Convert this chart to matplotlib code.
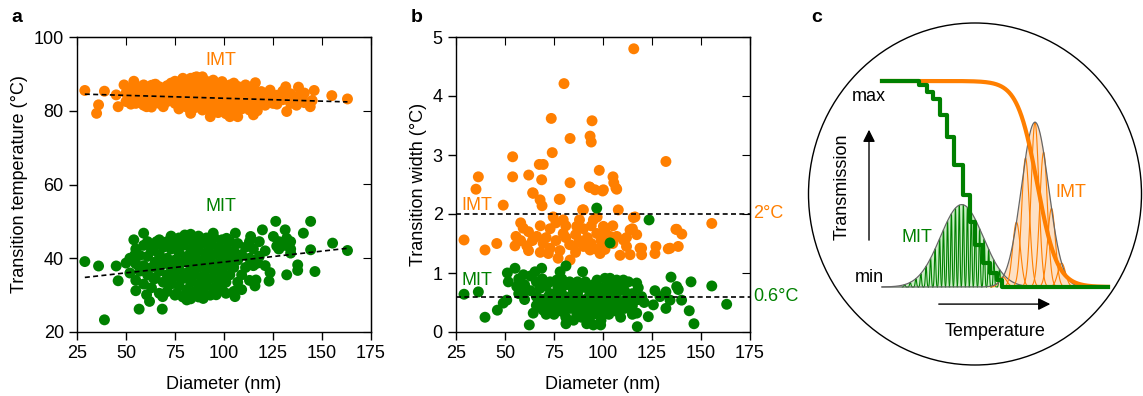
import numpy as np
import matplotlib.pyplot as plt
from matplotlib.patches import Ellipse

plt.rcParams['font.family'] = ['Liberation Sans', 'DejaVu Sans']
plt.rcParams['font.size'] = 13

orange = '#ff7f00'
green = '#008000'

# ---- panel a: transition temperature vs diameter ----
imt_t_x = [29, 35, 36, 39, 45, 46, 49, 54, 52.5, 57, 60.5, 59, 64, 69, 74, 79, 83, 86, 93, 94.5,
           99, 103, 107, 105, 111, 115, 116, 123.5, 125, 131.5, 132, 138, 140, 144, 146, 155, 163,
           50, 50, 52, 52, 55, 55, 55, 57, 57, 59, 59, 59, 61, 61, 63, 63, 63, 65, 65, 65,
           67, 67, 67, 69, 69, 69, 71, 71, 71, 73, 73, 73, 75, 75, 75, 75, 77, 77, 77, 77,
           79, 79, 79, 79, 81, 81, 81, 81, 83, 83, 83, 83, 83, 85, 85, 85, 85, 85, 87, 87, 87, 87,
           89, 89, 89, 89, 89, 91, 91, 91, 91, 93, 93, 93, 93, 95, 95, 95, 95, 97, 97, 97, 97,
           99, 99, 99, 99, 101, 101, 101, 101, 103, 103, 103, 103, 105, 105, 105, 105,
           107, 107, 107, 109, 109, 109, 111, 111, 111, 113, 113, 113, 115, 115, 115,
           117, 117, 117, 119, 119, 121, 121, 123, 123, 127, 127, 130, 130, 134, 134, 137, 137,
           141, 141, 145]
imt_t_y = [85.5, 79.3, 81.6, 85.3, 84.3, 81.1, 87, 88, 81.8, 82.9, 81.1, 86.5, 87, 81.1, 82.9, 88.8,
           79.3, 89.2, 78.4, 88.3, 87.9, 78.4, 78.4, 87.5, 87, 78.9, 87.6, 85.6, 82, 86.5, 79.8,
           86.4, 83.8, 81.1, 85.5, 84.1, 83.2,
           84.8, 82.5, 86, 83.5, 84, 86.8, 82, 85.5, 83, 87, 84.3, 81.5, 85.8, 82.8, 84.5, 86.9, 81,
           83.2, 85.6, 87.2, 84.8, 82, 86.5, 83.6, 85.9, 81.8, 86.8, 84.2, 82.5, 85.5, 83, 87.5,
           84, 86.5, 82, 88, 85, 87.8, 83.2, 80.5, 86.2, 84.3, 82.2, 88.5, 87.5, 85.3, 83, 81,
           88.8, 86.4, 84, 81.8, 80, 87.2, 85, 82.8, 80.8, 89, 88.3, 86, 83.8, 81.5,
           87, 84.5, 82.3, 80.2, 89.2, 85.8, 83.3, 81, 88, 86.8, 84.2, 82, 79.8, 85.2, 83, 80.8, 87.5,
           86.3, 84, 81.6, 79.5, 85, 82.6, 80.3, 87.2, 86, 83.5, 81.3, 79.2, 84.7, 82.3, 80, 87,
           85.8, 83.5, 81, 79.3, 84.2, 82, 86.6, 85.3, 83, 80.5, 84, 81.8, 86.4, 85, 82.5, 80.2,
           83.5, 81.2, 86.2, 84.6, 82.3, 80, 82.8, 85.2, 84, 81.5, 82.8, 85, 84.2, 81.8, 83, 85.3,
           82, 84.6, 81.5, 83.8, 82.2, 84.8, 82.8]

mit_t_x = [29, 36, 39, 45, 46, 50, 54, 54.5, 55, 56.7, 59, 60.5, 62, 68.5, 68.7, 64, 65.6, 76, 80,
           81, 89.4, 94.5, 96, 101.3, 105.6, 105.8, 113.6, 115.8, 116.3, 119.6, 117.2, 123.5, 123,
           125.2, 126.4, 126.9, 131.2, 132, 132, 134, 137.6, 137.6, 140.5, 144.2, 146.4, 144.2,
           155.4, 163,
           52, 52, 55, 55, 55, 57, 57, 59, 59, 59, 61, 61, 61, 63, 63, 63, 65, 65, 65,
           67, 67, 67, 67, 69, 69, 69, 71, 71, 71, 71, 73, 73, 73, 73, 75, 75, 75, 75,
           77, 77, 77, 77, 79, 79, 79, 79, 81, 81, 81, 81, 83, 83, 83, 83, 83, 85, 85, 85, 85,
           87, 87, 87, 87, 87, 89, 89, 89, 89, 91, 91, 91, 91, 93, 93, 93, 93, 95, 95, 95, 95,
           97, 97, 97, 99, 99, 99, 99, 101, 101, 101, 101, 103, 103, 103, 105, 105, 105,
           107, 107, 107, 109, 109, 109, 111, 111, 113, 113, 113, 115, 115, 118, 118, 121, 121,
           128, 128, 131, 134, 134]
mit_t_y = [39.1, 37.9, 23.3, 37.9, 33.9, 38.7, 45, 40.9, 31.2, 26.2, 46.8, 30.1, 28.3, 26.2, 29.6,
           34.6, 44.5, 30.5, 46.3, 28.7, 29.1, 46.8, 30.1, 45.4, 29.6, 46.8, 45.9, 32.5, 34.1, 47.7,
           38.7, 36.1, 33.8, 45.9, 50, 43.3, 47.7, 35.5, 45.4, 41.4, 38.2, 36.7, 46.8, 50, 36.4,
           42.3, 44.1, 42.1,
           36, 40, 34, 38.5, 42.5, 36.5, 40.8, 33, 38, 43.5, 35.5, 40.5, 44.5, 32, 37.5, 42,
           34.5, 39, 43.5, 30.5, 36.5, 41, 45, 33.5, 38.5, 43, 31, 35.5, 40, 44.5, 33, 37.5, 42.5, 46,
           30, 35, 39.5, 44, 32.5, 37, 41.5, 45.5, 29.5, 34.5, 39, 43.5, 31.5, 36, 40.5, 45,
           33.5, 38, 42.5, 46.5, 29, 31, 35.5, 40, 44, 33, 37.5, 42, 46, 29.5, 30.5, 35, 39.5, 44,
           32.5, 37, 41.5, 45.5, 34.5, 39, 43.5, 30, 32, 36.5, 41, 45.5, 34, 38.5, 43,
           31.5, 36, 40.5, 45, 33.5, 38, 42.5, 30.5, 35.5, 40, 44.5, 31, 37.5, 42, 33.5, 39.5, 44,
           35.5, 41, 31.5, 37.5, 43, 34, 40, 44.5, 38, 42.5, 40.5, 44.5, 42, 38, 42.5, 44.5, 43.5,
           44.5, 42.5]

# linear fits (start/end diameter, value)
imt_fit_x = [29, 163]
imt_fit_y = [84.5, 82.4]
mit_fit_x = [29, 163]
mit_fit_y = [34.8, 42.7]

# ---- panel b: transition width vs diameter ----
imt_w_x = [115.7, 80.1, 73.6, 94.4, 83.2, 93.4, 94.0, 74.1, 53.9, 132.1, 67.5, 69.5, 98.1, 62.1, 53.9,
           36.4, 105.1, 68.7, 83.2, 105.5, 35.2, 93.4, 95.9, 100.2, 107, 64.4, 67.9, 78.1,
           49.1, 64.1, 68.9, 77.7, 93, 99.8, 89.6, 106.6, 107.8, 115.5, 155.5, 137.6, 140.2, 134.2,
           138.4, 127, 126.5, 118.9, 119.7, 113.8,
           29.1, 39.8, 45.8, 55.6, 59.3, 55.1, 61.1, 66.2, 69.5, 72.1, 74.6, 77.1, 79.7, 79.7, 83.2,
           84.9, 86.6, 90, 93.4, 95.1, 96.8, 98.5, 100.2, 103.6, 108.7, 110.4, 113.8, 116.3, 117.2,
           119.7, 133.3, 137.2,
           58, 58, 62, 62, 64, 68, 68, 71, 73, 73, 76, 76, 78, 81, 81, 83, 86, 86, 88, 88, 90, 90,
           92, 94, 94, 97, 97, 99, 101, 101, 105, 105, 107, 112, 112, 115]
imt_w_y = [4.80, 4.21, 3.62, 3.58, 3.28, 3.32, 3.22, 3.04, 2.97, 2.89, 2.84, 2.84, 2.74, 2.66, 2.63,
           2.63, 2.63, 2.58, 2.53, 2.53, 2.42, 2.45, 2.41, 2.41, 2.42, 2.35, 2.24, 2.25,
           2.15, 2.36, 2.14, 2.25, 2.46, 2.39, 2.07, 2.44, 2.07, 1.94, 1.84, 1.74, 1.66, 1.42,
           1.45, 1.45, 1.33, 1.42, 1.31, 1.31,
           1.56, 1.39, 1.50, 1.62, 1.76, 1.46, 1.46, 1.62, 1.50, 1.33, 1.95, 1.25, 1.90, 1.67, 1.22,
           1.46, 1.79, 2.07, 1.39, 1.90, 1.67, 1.33, 1.79, 1.62, 1.30, 1.56, 1.73, 1.95, 1.65,
           1.42, 1.41, 1.74,
           1.55, 1.85, 1.7, 1.38, 1.55, 1.35, 1.8, 1.6, 1.42, 1.75, 1.55, 1.85, 1.38, 1.6, 1.8, 1.48,
           1.65, 1.35, 1.55, 1.9, 1.45, 1.75, 1.6, 1.8, 1.5, 1.4, 1.95, 1.55, 1.7, 1.4, 1.5, 1.8,
           1.62, 1.45, 1.6, 1.75]

mit_w_x = [96.8, 123.5, 103.6,
           29.1, 36.4, 39.8, 46.1, 49.1, 50.9, 51.2, 55.1, 51.7, 56, 59.4, 61.1, 62.4, 64.4, 65.3,
           68.7, 67.9, 69.5, 72.1, 76.4, 78.1, 81.1, 81.1, 84.1, 86.6, 89.6, 91.7, 95.1, 98.8, 96.8,
           101, 103.6, 107, 110.4, 111.2, 117.2, 117.2, 117.5, 119.7, 123.1, 126.5, 125.7, 129.1,
           132.1, 132.1, 134.7, 134.2, 137.6, 138.4, 140.1, 144, 144.9, 146.4, 155.5, 163.1,
           57, 57, 60, 60, 63, 63, 66, 66, 66, 69, 69, 69, 71, 71, 71, 73, 73, 73, 75, 75, 75,
           77, 77, 77, 79, 79, 79, 81, 81, 81, 83, 83, 83, 85, 85, 85, 87, 87, 87, 87, 89, 89, 89,
           91, 91, 91, 93, 93, 93, 93, 95, 95, 95, 97, 97, 97, 99, 99, 99, 99, 101, 101, 101,
           103, 103, 103, 105, 105, 105, 107, 107, 109, 109, 109, 111, 111, 113, 113, 115, 115, 115,
           118, 118, 121]
mit_w_y = [2.10, 1.90, 1.51,
           0.64, 0.68, 0.25, 0.37, 0.49, 0.54, 1.0, 1.08, 0.85, 0.77, 0.97, 0.71, 0.12, 0.32, 1.02,
           1.08, 0.74, 0.37, 0.60, 0.88, 1.02, 1.12, 0.14, 0.77, 0.32, 1.02, 0.14, 0.12, 0.12, 0.77,
           0.91, 0.91, 0.88, 0.88, 0.54, 0.83, 0.32, 0.09, 0.60, 0.26, 0.70, 0.46, 0.60,
           0.68, 0.40, 0.93, 0.54, 0.77, 0.72, 0.54, 0.36, 0.85, 0.14, 0.78, 0.47,
           0.9, 0.65, 0.8, 0.55, 0.95, 0.7, 0.85, 0.6, 0.45, 0.9, 0.55, 0.4, 0.78, 0.45, 0.3,
           0.65, 0.5, 0.85, 0.4, 0.6, 0.3, 0.55, 0.75, 0.45, 0.35, 0.65, 0.9, 0.5, 0.8, 0.25,
           0.6, 0.4, 0.85, 0.5, 0.7, 0.2, 0.35, 0.65, 0.85, 0.5, 0.45, 0.75, 0.25,
           0.55, 0.85, 0.35, 0.4, 0.7, 0.6, 0.2, 0.5, 0.8, 0.3, 0.65, 0.45, 0.88, 0.35, 0.55, 0.75, 0.2,
           0.5, 0.7, 0.4, 0.6, 0.85, 0.3, 0.45, 0.75, 0.55, 0.35, 0.65, 0.5, 0.8, 0.25, 0.7, 0.4,
           0.55, 0.85, 0.45, 0.65, 0.3, 0.55, 0.75, 0.5]

imt_width_ref = 2.0
mit_width_ref = 0.6

# ---- panel c: schematic (temperature 0-10, transmission 0-1) ----
step_T = [0, 1.65, 1.98, 2.27, 2.57, 2.86, 3.19, 3.57, 3.89, 4.12, 4.45, 4.78, 5.08, 5.30, 10]
step_tr = [1.0, 0.98, 0.948, 0.911, 0.835, 0.73, 0.592, 0.447, 0.317, 0.204, 0.115, 0.07, 0.035, 0, 0]
mit_peak_T, mit_peak_h, mit_sigma = 3.53, 0.40, 0.95
imt_peak_T, imt_peak_h, imt_sigma = 6.77, 0.80, 0.6
imt_sig_center, imt_sig_width = 6.87, 0.44
mit_spikes = [1.0, 1.25, 1.5, 1.72, 1.95, 2.15, 2.35, 2.55, 2.72, 2.9, 3.07, 3.25, 3.42, 3.6,
              3.78, 3.95, 4.13, 4.32, 4.52, 4.72, 4.95, 5.2]
imt_subpeaks = [5.35, 5.95, 6.35, 6.77, 7.15, 7.5, 7.95]

fig = plt.figure(figsize=(11.43, 3.96), dpi=100)
W, H = 1143, 396


def frame(ax):
    ax.tick_params(direction='out', length=6, width=1, labelsize=13)
    for s in ax.spines.values():
        s.set_linewidth(1)
    top = ax.secondary_xaxis('top')
    top.set_xticks(ax.get_xticks())
    top.tick_params(direction='in', length=6, labeltop=False)
    right = ax.secondary_yaxis('right')
    right.set_yticks(ax.get_yticks())
    right.tick_params(direction='in', length=6, labelright=False)


# panel a
axa = fig.add_axes([77 / W, 1 - 332 / H, 294 / W, 295 / H])
axa.scatter(imt_t_x, imt_t_y, s=62, color=orange, edgecolors='none', zorder=2)
axa.scatter(mit_t_x, mit_t_y, s=62, color=green, edgecolors='none', zorder=2)
axa.plot(imt_fit_x, imt_fit_y, 'k--', lw=1.2, dashes=(3, 2), zorder=3)
axa.plot(mit_fit_x, mit_fit_y, 'k--', lw=1.2, dashes=(3, 2), zorder=3)
axa.set_xlim(25, 175)
axa.set_ylim(20, 100)
axa.set_xticks([25, 50, 75, 100, 125, 150, 175])
axa.set_yticks([20, 40, 60, 80, 100])
axa.set_xlabel('Diameter (nm)', fontsize=13, labelpad=10)
axa.set_ylabel('Transition temperature (°C)', fontsize=13)
axa.text(98.5, 93.5, 'IMT', color=orange, ha='center', va='center', fontsize=13)
axa.text(98.5, 54.0, 'MIT', color=green, ha='center', va='center', fontsize=13)
frame(axa)

# panel b
axb = fig.add_axes([456 / W, 1 - 332 / H, 294 / W, 295 / H])
axb.scatter(imt_w_x, imt_w_y, s=62, color=orange, edgecolors='none', zorder=2)
axb.scatter(mit_w_x, mit_w_y, s=62, color=green, edgecolors='none', zorder=2)
axb.axhline(imt_width_ref, color='k', ls='--', lw=1.2, dashes=(3, 2), zorder=3)
axb.axhline(mit_width_ref, color='k', ls='--', lw=1.2, dashes=(3, 2), zorder=3)
axb.set_xlim(25, 175)
axb.set_ylim(0, 5)
axb.set_xticks([25, 50, 75, 100, 125, 150, 175])
axb.set_yticks([0, 1, 2, 3, 4, 5])
axb.set_xlabel('Diameter (nm)', fontsize=13, labelpad=10)
axb.set_ylabel('Transition width (°C)', fontsize=13)
axb.text(35.7, 2.15, 'IMT', color=orange, ha='center', va='center', fontsize=13)
axb.text(35.7, 0.88, 'MIT', color=green, ha='center', va='center', fontsize=13)
axb.text(1.01, imt_width_ref / 5, '2°C', color=orange, ha='left', va='center',
         fontsize=13, transform=axb.transAxes)
axb.text(1.01, mit_width_ref / 5, '0.6°C', color=green, ha='left', va='center',
         fontsize=13, transform=axb.transAxes)
frame(axb)

# panel c
x0, x1, y0, y1 = 800, 1143, 15, 375
px_T, px_tr = 22.6, 206.0
axc = fig.add_axes([x0 / W, 1 - y1 / H, (x1 - x0) / W, (y1 - y0) / H])
axc.set_xlim((x0 - 882) / px_T, (x1 - 882) / px_T)
axc.set_ylim((287 - y1) / px_tr, (287 - y0) / px_tr)
axc.axis('off')
axc.add_patch(Ellipse(((975 - 882) / px_T, (287 - 194) / px_tr), 333 / px_T, 342 / px_tr,
                      fill=False, ec='k', lw=1, clip_on=False))

T = np.linspace(0, 10, 2000)
mit_env = mit_peak_h * np.exp(-(T - mit_peak_T) ** 2 / (2 * mit_sigma ** 2))
imt_env = imt_peak_h * np.exp(-(T - imt_peak_T) ** 2 / (2 * imt_sigma ** 2))
axc.fill_between(T, 0, mit_env, color='#c9efc4', lw=0)
for c in mit_spikes:
    h = mit_peak_h * np.exp(-(c - mit_peak_T) ** 2 / (2 * mit_sigma ** 2))
    t = np.linspace(c - 0.1, c + 0.1, 60)
    axc.plot(t, h * np.exp(-(t - c) ** 2 / (2 * 0.03 ** 2)), color=green, lw=0.8)
axc.plot(T, mit_env, color='#666666', lw=0.9)
axc.fill_between(T, 0, imt_env, color='#fde0c4', lw=0)
for c in imt_subpeaks:
    h = imt_peak_h * np.exp(-(c - imt_peak_T) ** 2 / (2 * imt_sigma ** 2))
    t = np.linspace(c - 0.55, c + 0.55, 100)
    axc.plot(t, h * np.exp(-(t - c) ** 2 / (2 * 0.17 ** 2)), color=orange, lw=0.8)
axc.plot(T, imt_env, color='#666666', lw=0.9)

sig = 1 / (1 + np.exp((T - imt_sig_center) / imt_sig_width))
axc.plot(T, sig, color=orange, lw=3)
axc.step(step_T, step_tr, where='post', color=green, lw=3)

axc.annotate('', xy=(-0.575, 0.777), xytext=(-0.575, 0.214),
             arrowprops=dict(arrowstyle='-|>', color='k', lw=1, mutation_scale=18))
axc.annotate('', xy=(7.57, -0.083), xytext=(2.39, -0.083),
             arrowprops=dict(arrowstyle='-|>', color='k', lw=1, mutation_scale=18))
axc.text(-0.575, 0.927, 'max', ha='center', va='center', fontsize=13)
axc.text(-0.575, 0.044, 'min', ha='center', va='center', fontsize=13)
axc.text(-1.77, 0.485, 'Transmission', ha='center', va='center', rotation=90, fontsize=13)
axc.text(5.0, -0.218, 'Temperature', ha='center', va='center', fontsize=13)
axc.text(1.55, 0.238, 'MIT', color=green, ha='center', va='center', fontsize=13)
axc.text(8.36, 0.461, 'IMT', color=orange, ha='center', va='center', fontsize=13)

fig.text(17 / W, 1 - 17 / H, 'a', fontsize=14, fontweight='bold', ha='center', va='center')
fig.text(417 / W, 1 - 17 / H, 'b', fontsize=14, fontweight='bold', ha='center', va='center')
fig.text(817 / W, 1 - 17 / H, 'c', fontsize=14, fontweight='bold', ha='center', va='center')

fig.savefig('out.png', dpi=100)
